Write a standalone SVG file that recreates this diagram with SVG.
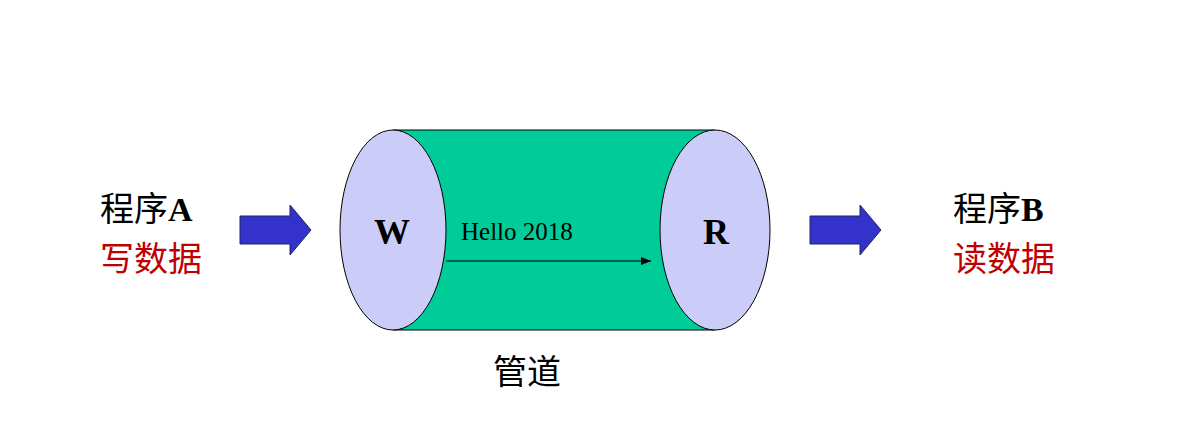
<svg xmlns="http://www.w3.org/2000/svg" width="1199" height="447" viewBox="0 0 1199 447">
<style>
.cn{font-family:"Liberation Serif","Noto Sans CJK SC",serif;font-size:34px}
.red{fill:#c00000}
.blk{fill:#000}
.end{fill:#ccccf8;stroke:#000;stroke-width:1}
.bar{fill:#3333cc;stroke:#222266;stroke-width:1}
</style>
<defs><marker id="ah" markerWidth="10" markerHeight="8" refX="10" refY="4" orient="auto" markerUnits="userSpaceOnUse"><path d="M0,0 L10,4 L0,8 Z" fill="#000"/></marker></defs>
<rect width="1199" height="447" fill="#fff"/>
<g id="pipe">
<rect x="393" y="130" width="322" height="200" fill="#00cc99"/>
<line x1="393" y1="130" x2="715" y2="130" stroke="#000"/>
<line x1="393" y1="330" x2="715" y2="330" stroke="#000"/>
<ellipse class="end" cx="715" cy="230" rx="55" ry="100"/>
<ellipse class="end" cx="393" cy="230" rx="53" ry="100"/>
<text x="392" y="244" text-anchor="middle" font-family="Liberation Serif,serif" font-weight="bold" font-size="36">W</text>
<text x="716" y="244" text-anchor="middle" font-family="Liberation Serif,serif" font-weight="bold" font-size="36">R</text>
<text x="461" y="240" font-family="Liberation Serif,serif" font-size="25">Hello 2018</text>
</g>
<g id="connectors">
<line x1="446" y1="261" x2="651" y2="261" stroke="#000" stroke-width="1" marker-end="url(#ah)"/>
<path class="bar" d="M240,216 H290 V205 L311,230 L290,255 V244 H240 Z"/>
<path class="bar" d="M810,216 H860 V205 L881,230 L860,255 V244 H810 Z"/>
</g>
<g id="progA">
<text class="cn" x="100" y="221">程序<tspan font-weight="bold">A</tspan></text>
<text class="cn red" x="100" y="271">写数据</text>
</g>
<g id="progB">
<text class="cn" x="953" y="221">程序<tspan font-weight="bold">B</tspan></text>
<text class="cn red" x="953" y="271">读数据</text>
</g>
<g id="label"><text class="cn" x="493" y="384">管道</text></g>
</svg>
